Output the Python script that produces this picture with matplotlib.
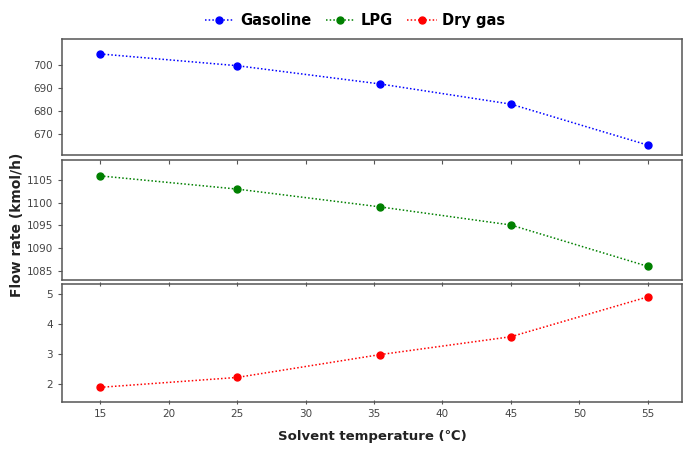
import matplotlib.pyplot as plt
from matplotlib.lines import Line2D

temps = [15, 25, 35.4, 45, 55]
gasoline = [704.8, 699.7, 691.8, 683.0, 665.2]
lpg = [1105.9, 1103.0, 1099.1, 1095.1, 1086.0]
dry_gas = [1.88, 2.21, 2.97, 3.57, 4.90]

series = [
    ("Gasoline", gasoline, "#0000ff", (660.9, 711.3), [670, 680, 690, 700]),
    ("LPG", lpg, "#008000", (1083.0, 1109.4), [1085, 1090, 1095, 1100, 1105]),
    ("Dry gas", dry_gas, "#ff0000", (1.39, 5.33), [2, 3, 4, 5]),
]
xticks = [15, 20, 25, 30, 35, 40, 45, 50, 55]

dots = (0, (1.0, 1.4))

fig = plt.figure(figsize=(6.83, 4.5), dpi=100)
boxes = [(39, 155), (160, 280), (284, 402)]
left, right = 62 / 683, 682 / 683
axes = []
for (top, bot) in boxes:
    ax = fig.add_axes([left, 1 - bot / 450, right - left, (bot - top) / 450])
    axes.append(ax)

handles = []
for i, (ax, (name, vals, col, ylim, yt)) in enumerate(zip(axes, series)):
    ax.plot(temps, vals, linestyle=dots, color=col, lw=1.1,
            marker="o", markersize=5)
    ax.set_xlim(12.2, 57.5)
    ax.set_ylim(*ylim)
    ax.set_yticks(yt)
    ax.set_xticks(xticks)
    for s in ax.spines.values():
        s.set_color("#555555")
        s.set_linewidth(1.1)
    ax.tick_params(axis="y", colors="#555555", labelcolor="#444444",
                   labelsize=7.5, length=3, width=0.8)
    if i == 2:
        ax.tick_params(axis="x", colors="#555555", labelcolor="#444444",
                       labelsize=7.5, length=3, width=0.8, top=True,
                       direction="out")
    elif i == 1:
        ax.tick_params(axis="x", bottom=False, labelbottom=False, top=True,
                       direction="in", length=3, colors="#555555")
    else:
        ax.tick_params(axis="x", bottom=False, labelbottom=False)
    handles.append(Line2D([], [], linestyle=dots, color=col,
                          lw=1.1, marker="o", markersize=5, label=name))

axes[2].tick_params(axis="x", top=True, direction="inout", length=3)
axes[2].set_xlabel("Solvent temperature (\u2103)", fontsize=9.5,
                   fontweight="bold", color="#222222", labelpad=8)

fig.text(0.025, 0.5, "Flow rate (kmol/h)", rotation=90, fontsize=10,
         fontweight="bold", color="#222222", ha="center", va="center")

fig.legend(handles=handles, loc="upper center", bbox_to_anchor=(0.52, 1.0),
           ncol=3, frameon=False, prop={"weight": "bold", "size": 10.5},
           handlelength=2.0, handletextpad=0.4, columnspacing=1.0)

fig.savefig("out.png", dpi=100)
